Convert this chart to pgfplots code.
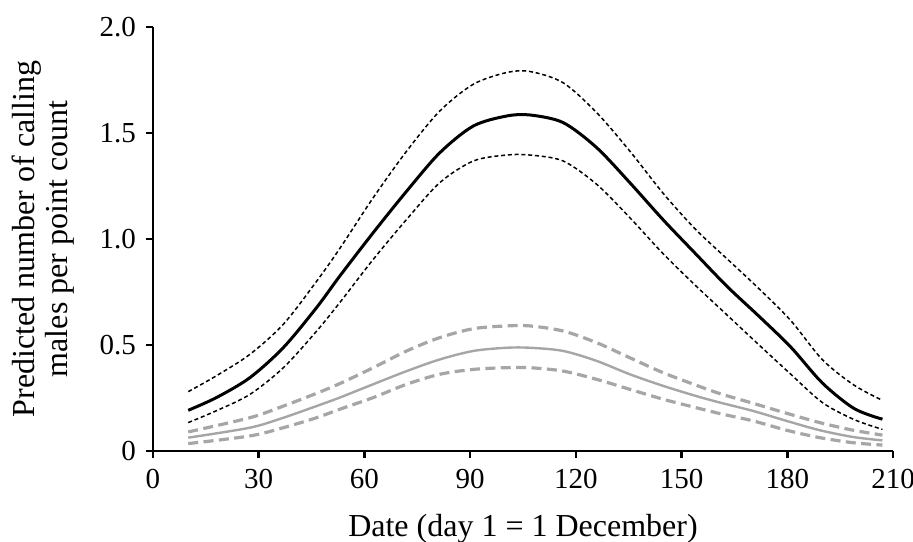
\documentclass[border=0pt]{standalone}
\usepackage{fontspec}
\setmainfont{Liberation Serif}
\usepackage{pgfplots}
\pgfplotsset{compat=1.18}
\usepackage{pgfplotstable}

\definecolor{lgrey}{RGB}{166,166,166}

% black curve: fit and 95% limits
\pgfplotstableread{
x     fit    lo     hi
10    0.192  0.134  0.280
18    0.252  0.190  0.355
27.5  0.346  0.267  0.456
37    0.488  0.393  0.598
46.4  0.676  0.565  0.800
53    0.825  0.700  0.955
62.5  1.030  0.904  1.195
72    1.226  1.093  1.415
81.4  1.407  1.266  1.604
90.9  1.533  1.368  1.730
100.3 1.580  1.396  1.785
107   1.585  1.396  1.790
116.4 1.549  1.368  1.737
125.9 1.431  1.258  1.596
135.3 1.266  1.101  1.415
144.8 1.090  0.930  1.215
154   0.930  0.780  1.045
163   0.775  0.640  0.905
172   0.635  0.500  0.765
181   0.490  0.362  0.615
190   0.320  0.228  0.430
199   0.200  0.148  0.310
207   0.150  0.102  0.239
}\blacktab

% grey curve: fit and 95% limits
\pgfplotstableread{
x     fit    lo     hi
10    0.063  0.035  0.090
27.5  0.110  0.071  0.157
37    0.157  0.110  0.212
46.4  0.212  0.157  0.272
53    0.252  0.197  0.318
62.5  0.315  0.252  0.393
72    0.377  0.315  0.472
81.4  0.432  0.362  0.535
90.9  0.472  0.385  0.577
100.3 0.487  0.393  0.590
107   0.487  0.393  0.590
116.4 0.472  0.377  0.566
125.9 0.425  0.338  0.511
135.3 0.362  0.291  0.440
144.8 0.307  0.244  0.369
154.2 0.259  0.204  0.310
161   0.228  0.176  0.270
170.3 0.189  0.142  0.225
179.8 0.142  0.098  0.178
189.2 0.098  0.063  0.134
198.7 0.066  0.039  0.098
207   0.050  0.028  0.075
}\greytab

\begin{document}
\begin{tikzpicture}
\useasboundingbox (-76.5pt,-45pt) rectangle (380pt,225.5pt);
\begin{axis}[
    at={(0,0)}, anchor=south west,
    scale only axis,
    width=370pt, height=212pt,
    xmin=0, xmax=210, ymin=0, ymax=2,
    axis x line=bottom, axis y line=left,
    axis line style={-, line width=1.3pt},
    tick style={line width=1.3pt, black},
    tick align=outside,
    major tick length=3.5pt,
    xtick={0,30,...,210},
    ytick={0,0.5,1,1.5,2},
    yticklabels={0,0.5,1.0,1.5,2.0},
    /pgf/number format/assume math mode=true,
    every tick label/.append style={font=\fontsize{14.5}{16}\selectfont},
    xticklabel style={yshift=-2pt},
    yticklabel style={xshift=-1.5pt},
    xlabel={Date (day 1 = 1 December)},
    ylabel={Predicted number of calling\\males per point count},
    xlabel style={at={(axis description cs:0.5,0)}, anchor=base, yshift=-42.5pt,
        font=\fontsize{16}{16.5}\selectfont},
    ylabel style={at={(axis description cs:-0.149,0.5)}, anchor=center,
        align=center, font=\fontsize{16}{16.5}\selectfont},
    clip=false,
]
\addplot[lgrey, line width=1.6pt, dash pattern=on 5pt off 2.7pt, smooth] table[x=x, y=hi] {\greytab};
\addplot[lgrey, line width=1.6pt, dash pattern=on 5pt off 2.7pt, smooth] table[x=x, y=lo] {\greytab};
\addplot[lgrey, line width=1.2pt, smooth] table[x=x, y=fit] {\greytab};
\addplot[black, line width=0.75pt, dash pattern=on 2pt off 1.4pt, smooth] table[x=x, y=hi] {\blacktab};
\addplot[black, line width=0.75pt, dash pattern=on 2pt off 1.4pt, smooth] table[x=x, y=lo] {\blacktab};
\addplot[black, line width=1.5pt, smooth] table[x=x, y=fit] {\blacktab};
\end{axis}
\end{tikzpicture}
\end{document}
